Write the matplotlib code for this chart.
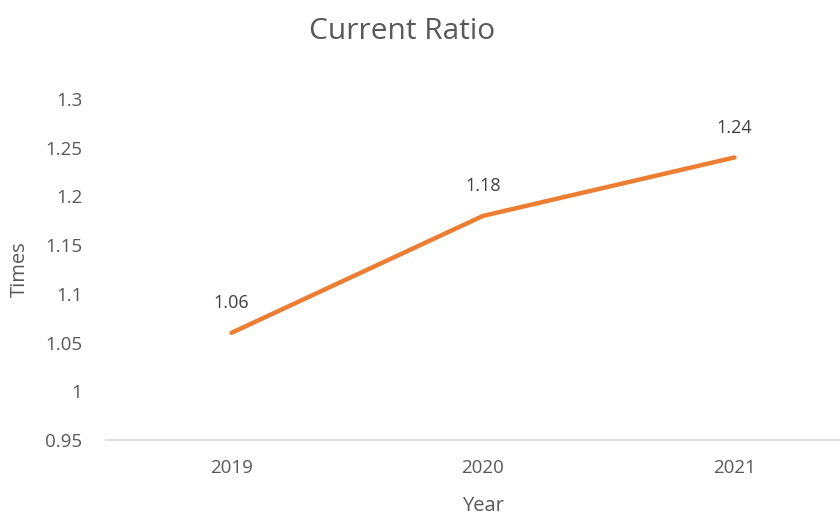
import matplotlib.pyplot as plt

plt.rcParams['font.family'] = ['Open Sans', 'DejaVu Sans']

years = ['2019', '2020', '2021']
ratio = [1.06, 1.18, 1.24]
y_ticks = [0.95, 1, 1.05, 1.1, 1.15, 1.2, 1.25, 1.3]
y_tick_labels = ['0.95', '1', '1.05', '1.1', '1.15', '1.2', '1.25', '1.3']

gray = '#595959'

fig = plt.figure(figsize=(8.4, 5.17), dpi=100)
ax = fig.add_axes([0.126, 0.149, 0.898, 0.6595])

x = list(range(len(years)))
ax.plot(x, ratio, color='#ED7D31', lw=3.2, solid_capstyle='round')

for xi, v in zip(x, ratio):
    ax.annotate(f'{v:.2f}', (xi, v), xytext=(0, 15), textcoords='offset points',
                ha='center', va='bottom', fontsize=13, color='#404040')

ax.set_xlim(-0.5, 2.5)
ax.set_ylim(0.95, 1.3)
ax.set_xticks(x)
ax.set_xticklabels(years)
ax.set_yticks(y_ticks)
ax.set_yticklabels(y_tick_labels)
ax.tick_params(length=0, labelsize=13.5, labelcolor=gray)
ax.tick_params(axis='x', pad=14)
ax.tick_params(axis='y', pad=17)

for s in ['top', 'right', 'left']:
    ax.spines[s].set_visible(False)
ax.spines['bottom'].set_color('#d9d9d9')
ax.spines['bottom'].set_linewidth(1.2)

ax.set_xlabel('Year', fontsize=14.5, color=gray)
ax.set_ylabel('Times', fontsize=14.5, color=gray)
ax.xaxis.set_label_coords(0.5, -0.165)
ax.yaxis.set_label_coords(-0.101, 0.5)
fig.text(0.479, 0.94, 'Current Ratio', ha='center', va='center', fontsize=21.5, color=gray)

fig.savefig('out.png', dpi=100)
